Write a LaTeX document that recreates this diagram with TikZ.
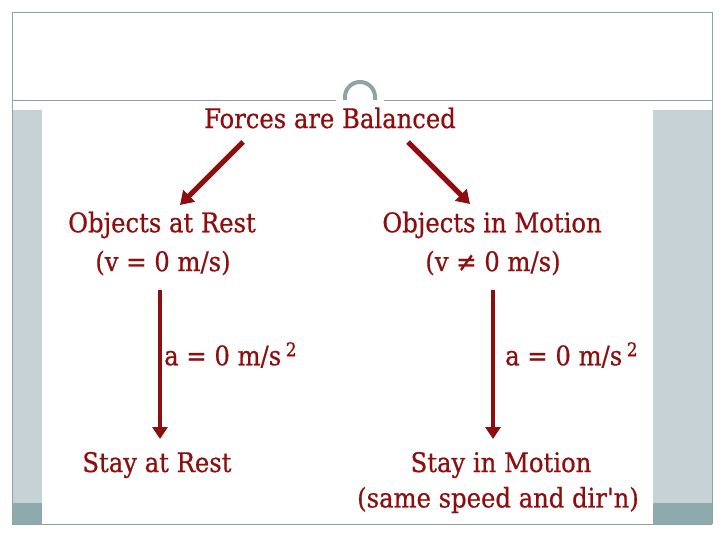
\documentclass[tikz,border=0pt]{standalone}
\usepackage{fontspec}
\setmainfont{DejaVu Serif Condensed}
\newfontfamily\lblfont{DejaVu Serif Condensed}[FakeBold=0.6]
\usetikzlibrary{arrows.meta}
\definecolor{txtred}{RGB}{140,14,14}
\definecolor{framegray}{RGB}{143,162,166}
\definecolor{panel}{RGB}{198,210,214}
\definecolor{band}{RGB}{143,170,172}
\begin{document}
\begin{tikzpicture}[x=1pt,y=-1pt,
  lbl/.style={text=txtred,font=\lblfont\fontsize{27}{31}\selectfont,inner sep=0pt,align=center},
  diag/.style={draw=txtred,line width=5pt,-{Triangle[width=16pt,length=13pt]}},
  vert/.style={draw=txtred,line width=3.8pt,-{Triangle[width=15pt,length=12pt]}}]
\useasboundingbox (0,0) rectangle (720,540);
\fill[white] (0,0) rectangle (720,540);
% slide decoration
\fill[panel] (12,110) rectangle (712,503);
\fill[band] (12,503) rectangle (712,524);
\fill[white] (42,110) rectangle (653,524);
\draw[framegray,line width=0.8pt] (12,524) -- (12,12) -- (712,12) -- (712,524);
\draw[framegray,line width=1pt] (12,524.5) -- (712,524.5);
\draw[framegray,line width=0.8pt] (12,100) -- (336,100);
\draw[framegray,line width=0.8pt] (384,100) -- (712,100);
\draw[framegray,line width=4pt] (345,100) -- (345,97) arc[start angle=180,end angle=360,radius=15] -- (375,100);
% nodes
\node[lbl] (top) at (330,118) {Forces are Balanced};
\node[lbl] (rest) at (162,225) {Objects at Rest};
\node[lbl] (restv) at (163,263) {(v = 0 m/s)};
\node[lbl] (mot) at (492,225) {Objects in Motion};
\node[lbl] (motv) at (493,263) {(v ≠ 0 m/s)};
\node[lbl,anchor=west] (al) at (164,355) {a = 0 m/s\,\textsuperscript{2}};
\node[lbl,anchor=west] (ar) at (505,355) {a = 0 m/s\,\textsuperscript{2}};
\node[lbl] (srest) at (157,465) {Stay at Rest};
\node[lbl] (smot) at (501,465) {Stay in Motion};
\node[lbl] (same) at (498,500) {(same speed and dir'n)};
% connectors
\coordinate (l0) at (243,142);
\coordinate (l1) at (180,205);
\coordinate (r0) at (408,142);
\coordinate (r1) at (470,204);
\draw[diag] (l0) -- (l1);
\draw[diag] (r0) -- (r1);
\coordinate (v0) at (160,290);
\coordinate (v1) at (160,439);
\coordinate (w0) at (493,290);
\coordinate (w1) at (493,439);
\draw[vert] (v0) -- (v1);
\draw[vert] (w0) -- (w1);
\end{tikzpicture}
\end{document}
